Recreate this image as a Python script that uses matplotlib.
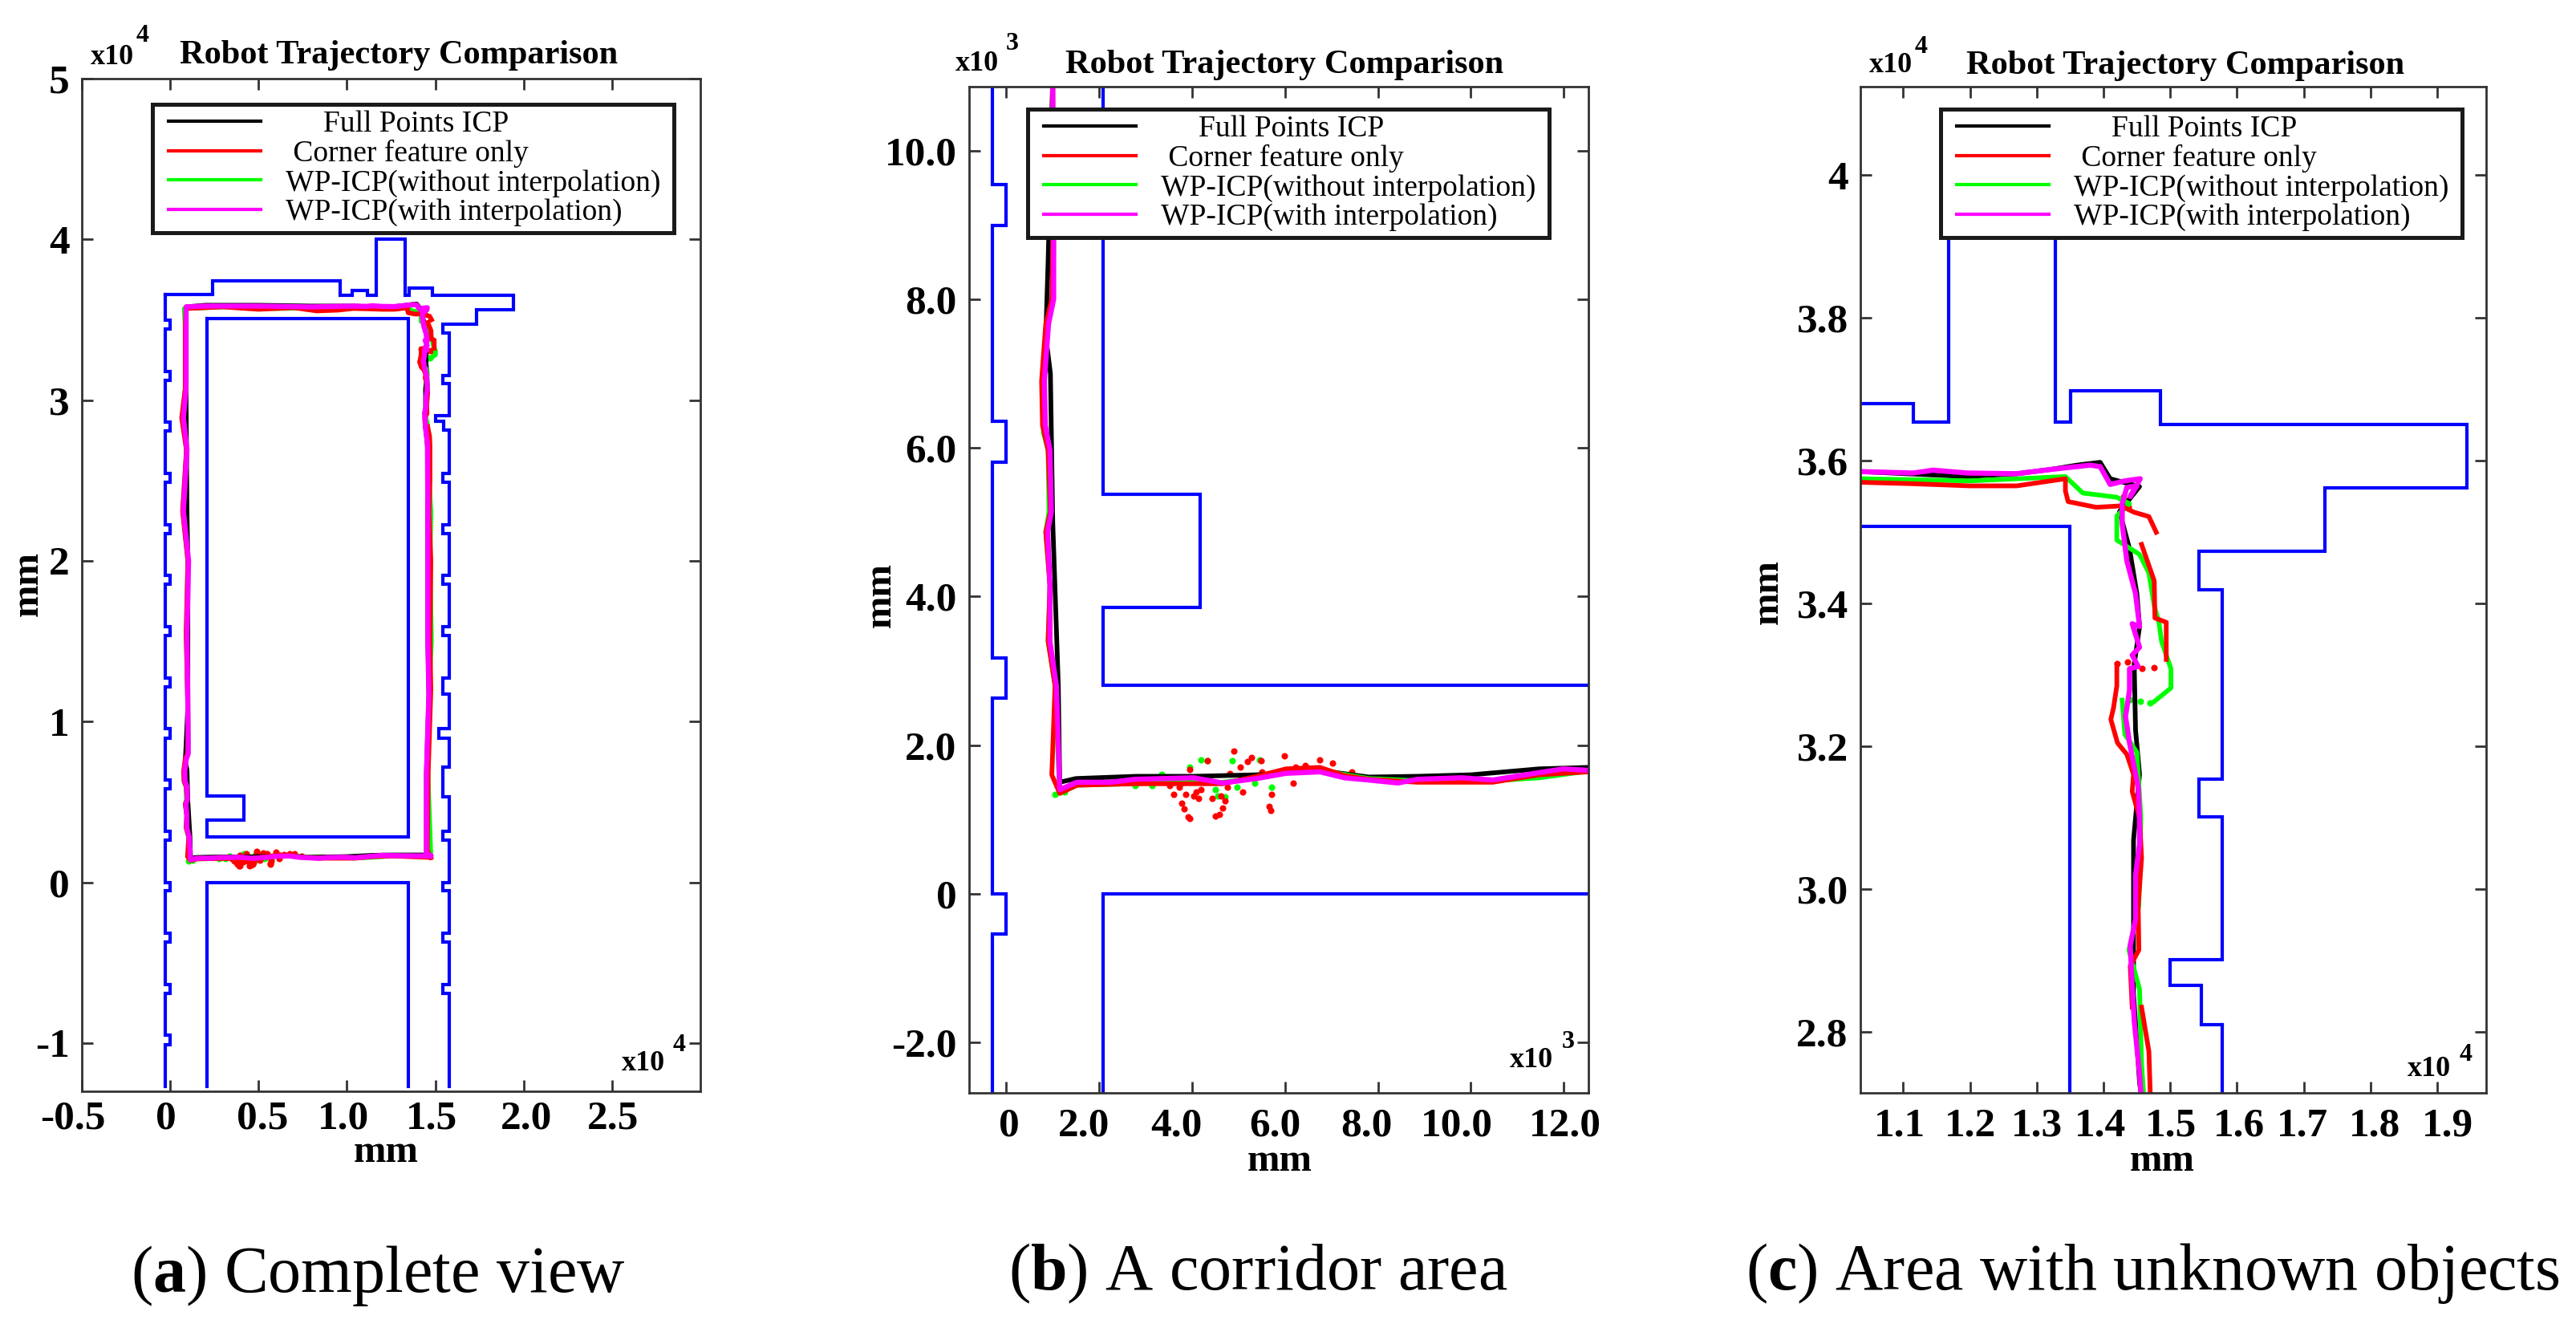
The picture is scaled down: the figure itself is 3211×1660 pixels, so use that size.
import numpy as np
import matplotlib
matplotlib.use("Agg")
import matplotlib.pyplot as plt
from matplotlib.lines import Line2D
from matplotlib.legend_handler import HandlerLine2D
from matplotlib.transforms import ScaledTranslation

W, H = 3211, 1660
plt.rcParams['font.family'] = ['Liberation Serif', 'DejaVu Serif']
plt.rcParams['mathtext.fontset'] = 'custom'
plt.rcParams['mathtext.rm'] = 'Liberation Serif'
plt.rcParams['mathtext.bf'] = 'Liberation Serif:bold'

# everything below in units of 10^4 mm
left_wall_x = [-.03, -.03, 0, 0, -.03, -.03, 0, 0, -.03, -.03, 0, 0, -.03, -.03, 0, 0, -.03, -.03, 0, 0, -.03, -.03, 0, 0,
               -.03, -.03, 0, 0, -.03, -.03, 0, 0, -.03, -.03, 0, 0, -.03, -.03, 0, 0, -.03, -.03, 0, 0, -.03, -.03, 0, 0,
               -.03, -.03, 0, 0, -.03, -.03, 0, 0, -.03, -.03, 0, 0, -.03, -.03]
left_wall_y = [-1.27, -1.008, -1.008, -.953, -.953, -.69, -.69, -.635, -.635, -.372, -.372, -.317, -.317, -.054, -.054, 0,
               0, .263, .263, .317, .317, .581, .581, .636, .636, .899, .899, .954, .954, 1.217, 1.217, 1.272, 1.272, 1.535,
               1.535, 1.59, 1.59, 1.853, 1.853, 1.908, 1.908, 2.171, 2.171, 2.226, 2.226, 2.489, 2.489, 2.544, 2.544, 2.807,
               2.807, 2.862, 2.862, 3.125, 3.125, 3.18, 3.18, 3.443, 3.443, 3.498, 3.498, 3.656]
top_wall_x = [-.03, .24, .24, .964, .964, 1.03, 1.03, 1.115, 1.115, 1.168, 1.168, 1.328, 1.328, 1.351, 1.351, 1.485, 1.485,
              1.944, 1.944, 1.732, 1.732, 1.543, 1.543, 1.578, 1.578, 1.543, 1.543, 1.578, 1.578, 1.5, 1.5, 1.547, 1.547, 1.578]
top_wall_y = [3.656, 3.656, 3.74, 3.74, 3.654, 3.654, 3.68, 3.68, 3.654, 3.654, 4.0, 4.0, 3.654, 3.654, 3.698, 3.698, 3.651,
              3.651, 3.562, 3.562, 3.473, 3.473, 3.419, 3.419, 3.154, 3.154, 3.101, 3.101, 2.901, 2.901, 2.866, 2.866, 2.811, 2.811]
right_wall_x = [1.578, 1.578, 1.543, 1.543, 1.578, 1.578, 1.543, 1.543, 1.578, 1.578, 1.543, 1.543, 1.578, 1.578, 1.543, 1.543,
                1.578, 1.578, 1.543, 1.543, 1.578, 1.578, 1.522, 1.522, 1.578, 1.578, 1.543, 1.543, 1.578, 1.578, 1.543, 1.543,
                1.578, 1.578, 1.543, 1.543, 1.578, 1.578, 1.543, 1.543, 1.578, 1.578, 1.543, 1.543, 1.578, 1.578]
right_wall_y = [2.811, 2.544, 2.544, 2.489, 2.489, 2.226, 2.226, 2.171, 2.171, 1.908, 1.908, 1.853, 1.853, 1.59, 1.59, 1.535,
                1.535, 1.272, 1.272, 1.17, 1.17, .954, .954, .899, .899, .718, .718, .534, .534, .317, .317, .263, .263, 0, 0, -.054,
                -.054, -.317, -.317, -.372, -.372, -.635, -.635, -.69, -.69, -1.27]
inner_x = [.208, 1.349, 1.349, .208, .208, .417, .417, .208, .208]
inner_y = [3.508, 3.508, .28, .28, .385, .385, .538, .538, 3.508]
lower_x = [.208, .208, 1.349, 1.349]
lower_y = [-1.27, 0, 0, -1.27]

black_x = [1.47, 1.253, 1.147, 1.0, .885, .78, .675, .54, .403, .28, .15, .115, .112, .10, .095, .085, .09, .10, .10, .10, .095,
           .09, .09, .2, .5, .8, 1.036, 1.196, 1.27, 1.321, 1.36, 1.395, 1.41, 1.454, 1.424, 1.439, 1.45, 1.454, 1.446, 1.448,
           1.454, 1.445, 1.445, 1.445, 1.454, 1.456, 1.458, 1.464, 1.45, 1.45, 1.47]
black_y = [.17, .17, .168, .16, .158, .157, .166, .16, .158, .158, .155, .15, .28, .5, .7, .75, .85, 1.1, 1.55, 2.0, 2.3,
           3.0, 3.58, 3.59, 3.59, 3.585, 3.585, 3.578, 3.582, 3.588, 3.594, 3.598, 3.575, 3.564, 3.529, 3.477, 3.414, 3.368, 3.315, 3.223,
           3.161, 3.069, 2.946, 2.853, 2.73, 2.715, 1.5, 1.17, .677, .19, .17]

green_x = [1.475, 1.35, 1.253, 1.147, 1.047, .885, .78, .675, .602, .539, .466, .403, .277, .152, .115, .105, .09, .094, .085,
           .092, .09, .08, .078, .088, .10, .102, .10, .092, .10, .072, .092, .07, .085, .085, .08, .3, .6, .9, 1.036, 1.2, 1.343, 1.369, 1.395, 1.42, 1.439, 1.42, 1.42,
           1.454, 1.468, 1.476, 1.483, 1.487, 1.501, 1.501, 1.476, np.nan, 1.428, 1.432, 1.45, 1.456, 1.453, 1.438, 1.454, 1.457, 1.46,
           1.465, 1.475, 1.47, 1.478, 1.465, 1.458, 1.475]
green_y = [.16, .164, .165, .156, .152, .152, .155, .166, .165, .156, .15, .15, .148, .146, .135, .28, .34, .415, .487,
           .514, .597, .62, .69, .767, .80, .872, 1.086, 1.545, 2.0, 2.31, 2.69, 2.89, 3.07, 3.45, 3.57, 3.58, 3.57, 3.575, 3.575, 3.572, 3.578, 3.555, 3.552, 3.549, 3.54, 3.523, 3.489,
           3.469, 3.443, 3.397, 3.374, 3.347, 3.309, 3.282, 3.263, np.nan, 3.265, 3.217, 3.192, 3.1, 2.977, 2.915, 2.86, 2.755, 2.715,
           2.5, 2.3, 2.0, 1.5, 1.2, .68, .16]

red_x = [1.475, 1.35, 1.253, 1.147, 1.047, .885, .78, .728, .675, .602, .539, .466, .403, .277, .152, .115, .098, .105, .09, .094,
         .085, .095, .09, .078, .076, .085, .098, .10, .10, .09, .10, .07, .092, .065, .085, .085, .09, .3, .5, .7, .83, .95, 1.036, 1.115,
         1.20, 1.27, 1.343, 1.343, 1.347, 1.389, 1.426, 1.446, 1.468, 1.479, np.nan, 1.457, 1.476, 1.477, 1.494, 1.494, 1.494, np.nan,
         1.42, 1.42, 1.415, 1.411, 1.421, 1.435, 1.445, 1.443, 1.454, 1.457, 1.452, 1.453, 1.44, 1.443, np.nan, 1.457, 1.468, 1.47,
         1.47, 1.465, 1.475, 1.47, 1.475, 1.46, 1.455, 1.475]
red_y = [.155, .16, .164, .16, .15, .15, .154, .159, .17, .168, .158, .148, .148, .148, .146, .135, .16, .28, .34, .415,
         .487, .514, .597, .63, .69, .767, .80, .872, 1.086, 1.545, 2.0, 2.31, 2.69, 2.89, 3.07, 3.45, 3.57, 3.58, 3.565, 3.575, 3.555, 3.56, 3.57, 3.568,
         3.565, 3.565, 3.575, 3.558, 3.543, 3.535, 3.537, 3.528, 3.522, 3.5, np.nan, 3.483, 3.432, 3.38, 3.374, 3.347, 3.322, np.nan,
         3.315, 3.285, 3.254, 3.238, 3.205, 3.189, 3.161, 3.137, 3.1, 3.044, 2.977, 2.915, 2.893, 2.835, np.nan, 2.835, 2.773, 2.715,
         2.5, 2.3, 2.0, 1.5, 1.2, .68, .2, .155]

magenta_x = [1.473, 1.35, 1.253, 1.20, 1.147, 1.047, .98, .885, .843, .78, .728, .675, .602, .539, .466, .403, .277, .225, .152, .115,
             .108, .094, .094, .089, .097, .094, .084, .082, .091, .102, .102, .10, .095, .104, .075, .095, .075, .09, .09, .09,
             .2, .5, .8, 1.036, 1.115, 1.145, 1.196, 1.27, 1.321, 1.38, 1.395, 1.41, 1.432, 1.455, 1.44, 1.45, 1.435, 1.428, 1.428, 1.435,
             1.448, 1.454, 1.443, 1.454, 1.443, 1.452, 1.439, 1.439, 1.433, 1.439, 1.452, 1.454, 1.454, 1.448, 1.448, 1.44, 1.443, 1.446,
             1.454, 1.456, 1.458, 1.458, 1.464, 1.45, 1.45, 1.473]
magenta_y = [.164, .165, .166, .168, .163, .153, .156, .154, .149, .153, .156, .164, .162, .155, .149, .156, .154, .150, .150, .140,
             .279, .339, .415, .487, .514, .597, .63, .69, .767, .80, .872, 1.086, 1.545, 2.0, 2.31, 2.69, 2.89, 3.07, 3.45, 3.58,
             3.585, 3.585, 3.58, 3.585, 3.583, 3.587, 3.583, 3.582, 3.588, 3.594, 3.592, 3.567, 3.572, 3.575, 3.55, 3.565, 3.563, 3.54, 3.512, 3.46,
             3.414, 3.368, 3.372, 3.339, 3.328, 3.312, 3.309, 3.279, 3.242, 3.205, 3.143, 3.1, 3.063, 3.02, 2.958, 2.921, 2.866, 2.816,
             2.742, 2.715, 2.3, 1.5, 1.17, .677, .184, .164]

# loose points of the corner-only and no-interpolation runs
red_dots_x = [.489, .527, .432, .598, .548, .52, .503, .395, .482, .55, .623, .644, .675, .702, .743, .618, .351, .361, .372,
              .387, .403, .419, .377, .382, .391, .395, .45, .458, .466, .463, .476, .508, .571, .565, .569, .443, .471, .408, .414,
              1.42, 1.436, 1.458, 1.476, 1.43, 1.437]
red_dots_y = [.192, .183, .179, .186, .179, .178, .17, .167, .162, .164, .17, .173, .18, .176, .164, .149, .146, .134, .143,
              .134, .131, .14, .122, .114, .103, .101, .105, .107, .115, .131, .143, .137, .134, .118, .112, .128, .125, .137, .128,
              3.316, 3.318, 3.309, 3.31, 3.55, 3.535]
green_dots_x = [.419, .432, .487, .545, .395, .335, .277, .314, .105, .126, .455, .471, .497, .571, .377, .45, .534,
                1.44, 1.455, 1.47]
green_dots_y = [.18, .179, .179, .18, .17, .161, .146, .146, .134, .137, .131, .13, .143, .143, .149, .14, .149,
                3.266, 3.263, 3.261]

legend_labels = ['     Full Points ICP', ' Corner feature only', 'WP-ICP(without interpolation) ', 'WP-ICP(with interpolation)']
legend_colors = ['black', '#ff0000', '#00ff00', '#ff00ff']
panel_xticklabels = [['-0.5', '0', '0.5', '1.0', '1.5', '2.0', '2.5'],
                     ['0', '2.0', '4.0', '6.0', '8.0', '10.0', '12.0'],
                     ['1.1', '1.2', '1.3', '1.4', '1.5', '1.6', '1.7', '1.8', '1.9']]
panel_yticklabels = [['-1', '0', '1', '2', '3', '4', '5'],
                     ['-2.0', '0', '2.0', '4.0', '6.0', '8.0', '10.0'],
                     ['2.8', '3.0', '3.2', '3.4', '3.6', '3.8', '4']]
panel_xticks = [[-.5, 0, .5, 1, 1.5, 2, 2.5], [0, 2, 4, 6, 8, 10, 12], [1.1, 1.2, 1.3, 1.4, 1.5, 1.6, 1.7, 1.8, 1.9]]
panel_yticks = [[-1, 0, 1, 2, 3, 4, 5], [-2, 0, 2, 4, 6, 8, 10], [2.8, 3, 3.2, 3.4, 3.6, 3.8, 4]]
captions = [r'($\mathbf{a}$) Complete view', r'($\mathbf{b}$) A corridor area', r'($\mathbf{c}$) Area with unknown objects']
exponents = ['4', '3', '4']
scales = [1, 10, 1]

# layout in pixels of the output
boxes = [(102, 873, 98, 1360), (1208, 1980, 108, 1362), (2319, 3099, 108, 1362)]
limits = [(-.5, 3.0, -1.3, 5.0), (-.8, 12.53, -2.68, 10.86), (1.036, 1.973, 2.715, 4.124)]
legend_boxes = [(190, 130), (1281, 136), (2419, 136)]
title_pos = [(497, 69), (1601, 81), (2724, 82)]
caption_pos = [(471, 1590), (1568, 1587), (2683, 1587)]
xlabel_pos = [(481, 1436), (1595, 1447), (2695, 1447)]
ylabel_pos = [(35, 727), (1098, 741), (2204, 737)]
exp_top = [(140, 71, 178, 45), (1218, 79, 1262, 54), (2357, 82, 2395, 59)]
exp_bot = [(802, 1325, 847, 1303), (1909, 1321, 1955, 1298), (3028, 1332, 3074, 1315)]
xlabel_shift = [[-11, -5, 5, -4, -5, 3, 1], [4, -19, -20, -12, -14, -18, 2], [-4, 0, 0, -4, 1, 2, -2, 5, 13]]

fig = plt.figure(figsize=(W / 100, H / 100), dpi=100)


def put(x, y, s, **kw):
    fig.text(x / W, 1 - y / H, s, ha='center', va='center', **kw)


for i in range(3):
    l, r, t, b = boxes[i]
    ax = fig.add_axes([l / W, 1 - b / H, (r - l) / W, (b - t) / H])
    k = scales[i]
    for wx, wy in [(left_wall_x, left_wall_y), (top_wall_x, top_wall_y), (right_wall_x, right_wall_y),
                   (inner_x, inner_y), (lower_x, lower_y)]:
        ax.plot(np.array(wx) * k, np.array(wy) * k, color='#0000ff', lw=3, solid_joinstyle='miter')
    ax.plot(np.array(black_x) * k, np.array(black_y) * k, color='black', lw=4.2)
    ax.plot(np.array(green_x) * k, np.array(green_y) * k, color='#00ff00', lw=4.2)
    ax.scatter(np.array(green_dots_x) * k, np.array(green_dots_y) * k, s=34, color='#00ff00', lw=0)
    ax.plot(np.array(red_x) * k, np.array(red_y) * k, color='#ff0000', lw=4.2)
    ax.scatter(np.array(red_dots_x) * k, np.array(red_dots_y) * k, s=34, color='#ff0000', lw=0)
    ax.plot(np.array(magenta_x) * k, np.array(magenta_y) * k, color='#ff00ff', lw=4.6)

    ax.set_xlim(limits[i][0], limits[i][1])
    ax.set_ylim(limits[i][2], limits[i][3])
    ax.set_xticks(panel_xticks[i])
    ax.set_xticklabels(panel_xticklabels[i], fontweight='bold', fontsize=37)
    ax.set_yticks(panel_yticks[i])
    ax.set_yticklabels(panel_yticklabels[i], fontweight='bold', fontsize=37)
    ax.tick_params(direction='in', length=10, width=2, top=True, right=True, color='#333333')
    ax.tick_params(axis='x', pad=8 if i == 0 else 13)
    ax.tick_params(axis='y', pad=11)
    for s in ax.spines.values():
        s.set_linewidth(2)
        s.set_color('#333333')
    for lab, d in zip(ax.get_xticklabels(), xlabel_shift[i]):
        lab.set_transform(lab.get_transform() + ScaledTranslation(d / 100, 0, fig.dpi_scale_trans))

    handles = [Line2D([], [], color=c, lw=3) for c in legend_colors]
    lx, ly = legend_boxes[i]
    leg = ax.legend(handles, legend_labels, loc='upper left',
                    bbox_to_anchor=((lx - l) / (r - l), 1 - (ly - t) / (b - t)), borderaxespad=0,
                    fancybox=False, framealpha=1, edgecolor='#1a1a1a', fontsize=27,
                    handlelength=3.4, handletextpad=.83, labelspacing=.05, borderpad=.2,
                    handler_map={Line2D: HandlerLine2D(xpad=.33)})
    leg.get_frame().set_linewidth(3.6)
    leg.set_zorder(10)

    put(*title_pos[i], 'Robot Trajectory Comparison', fontsize=30.5, fontweight='bold')
    put(*caption_pos[i], captions[i], fontsize=59)
    put(*xlabel_pos[i], 'mm', fontsize=35, fontweight='bold')
    put(*ylabel_pos[i], 'mm', fontsize=35, fontweight='bold', rotation=90)
    put(exp_top[i][0], exp_top[i][1], 'x10', fontsize=26, fontweight='bold')
    put(exp_top[i][2], exp_top[i][3], exponents[i], fontsize=23, fontweight='bold')
    put(exp_bot[i][0], exp_bot[i][1], 'x10', fontsize=26, fontweight='bold')
    put(exp_bot[i][2], exp_bot[i][3], exponents[i], fontsize=23, fontweight='bold')

fig.savefig('out.png', dpi=100)
